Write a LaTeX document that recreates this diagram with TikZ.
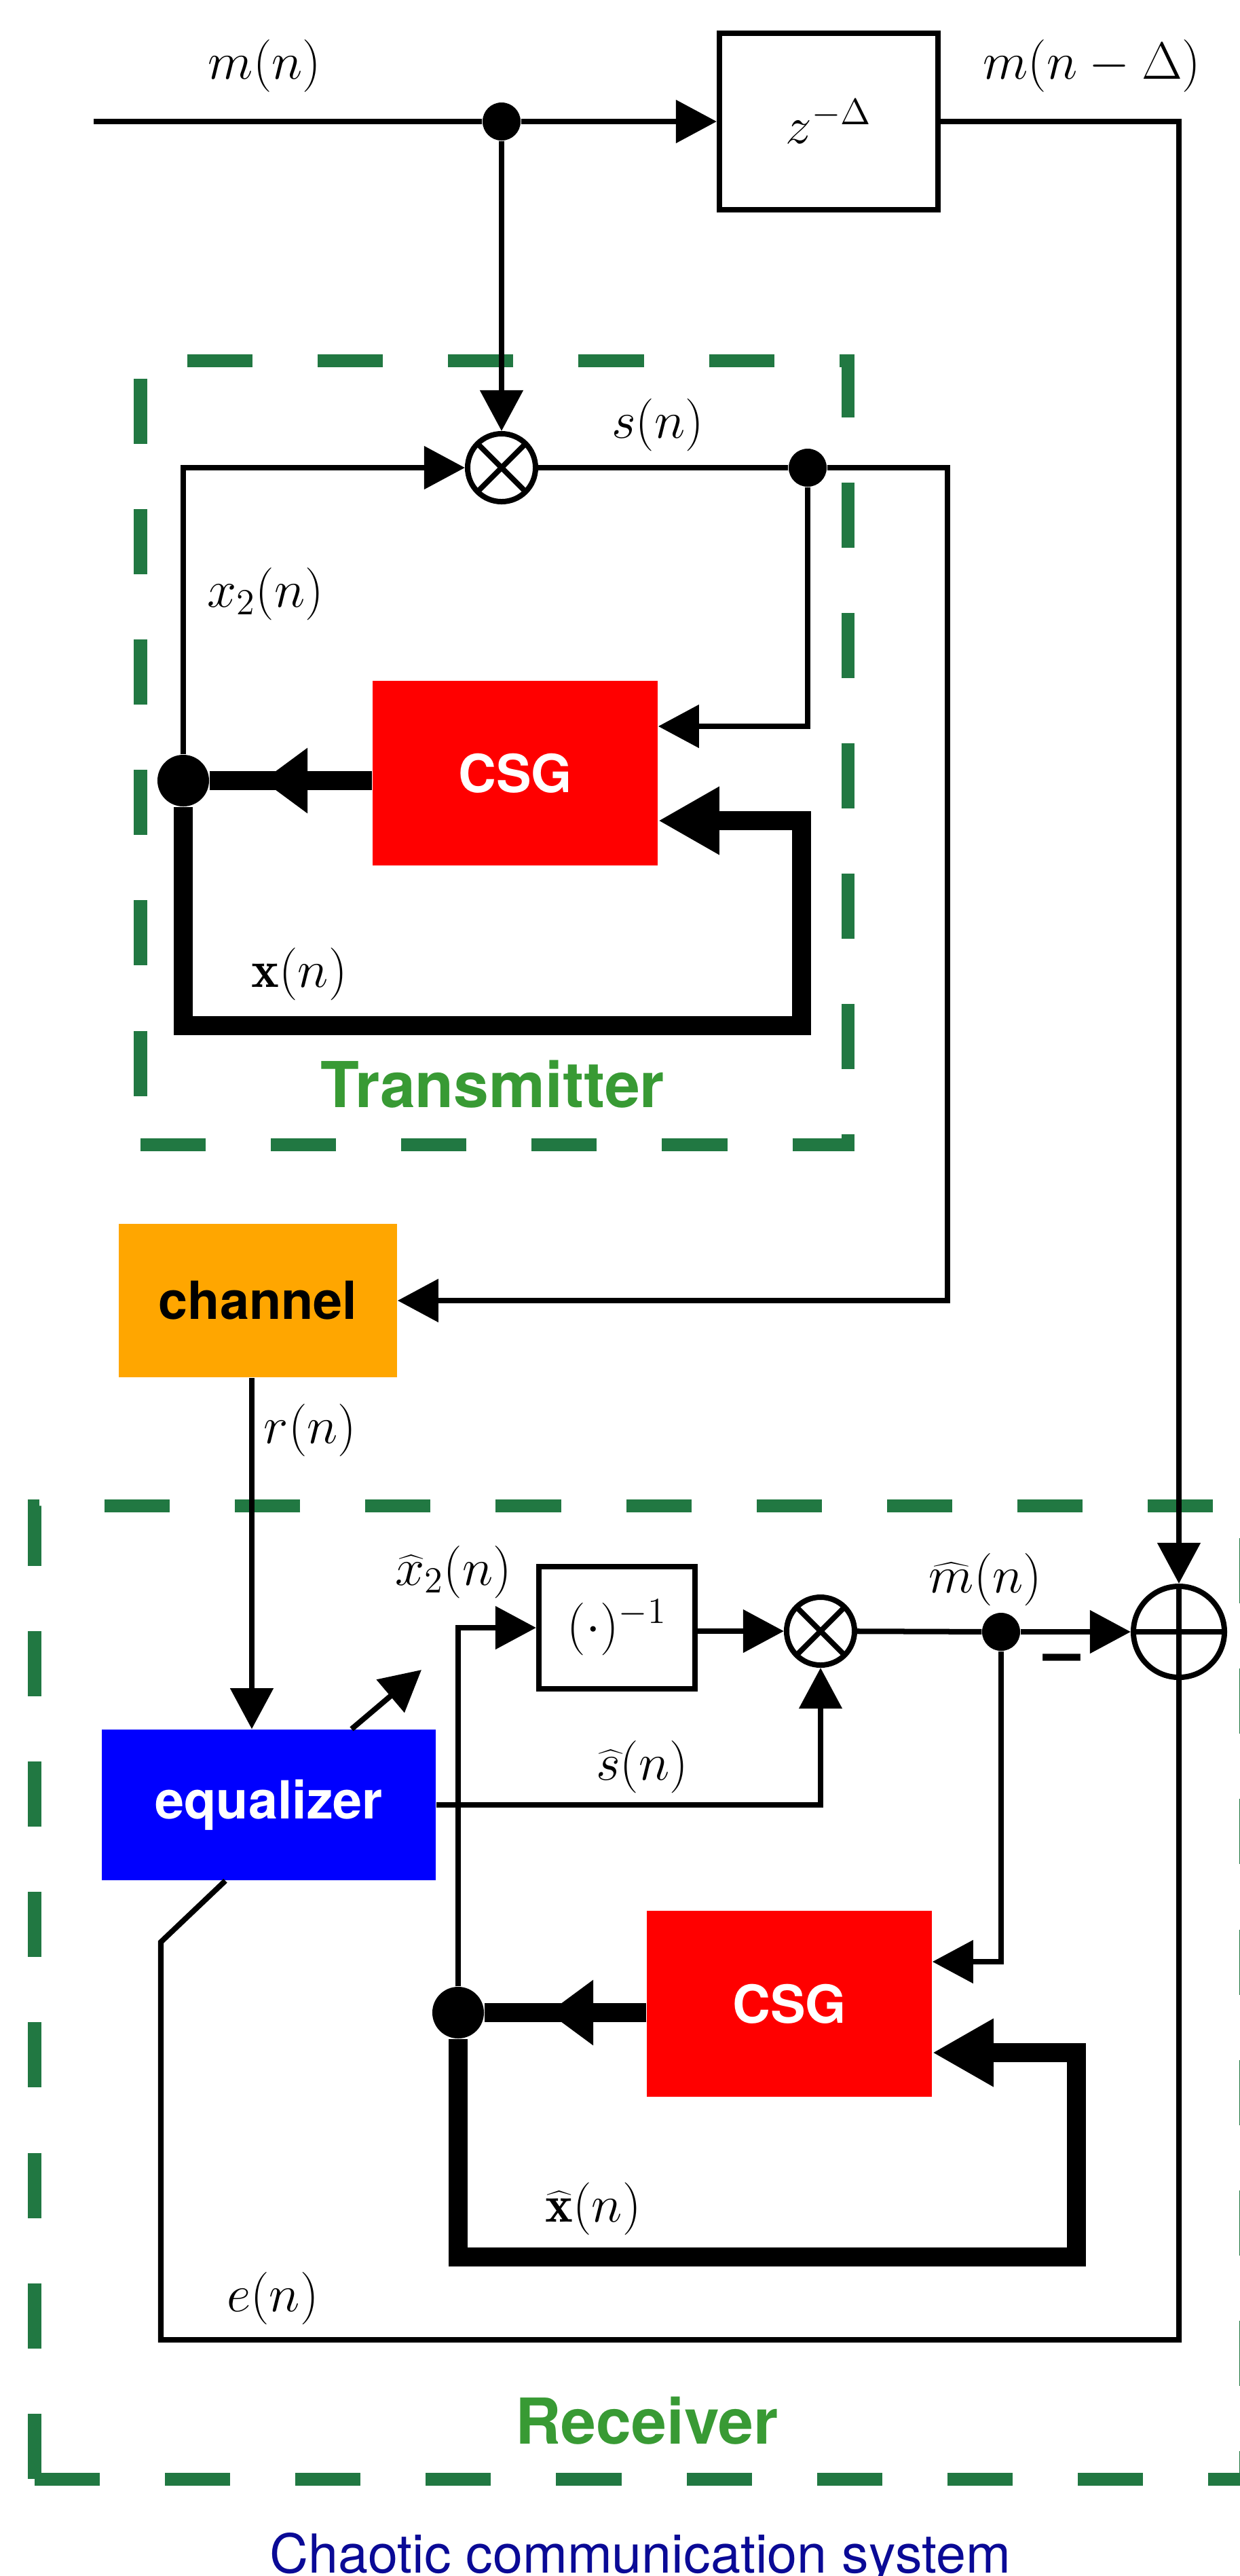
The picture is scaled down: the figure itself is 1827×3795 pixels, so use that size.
\documentclass[tikz,border=0pt]{standalone}
\usepackage{fix-cm}
\usepackage{fontspec}
\newfontfamily\hv{TeX Gyre Heros}
\usetikzlibrary{arrows.meta,calc}
\definecolor{dashgreen}{RGB}{33,120,66}
\definecolor{txtgreen}{RGB}{56,154,52}
\definecolor{navytxt}{RGB}{10,10,150}
\definecolor{chorange}{RGB}{255,166,0}
\begin{document}
\begin{tikzpicture}[x=0.01cm,y=-0.01cm,
  thinl/.style={line width=0.08cm},
  thickl/.style={line width=0.28cm},
  arr/.style={-{Triangle[length=0.6cm,width=0.62cm]}},
  tarr/.style={-{Triangle[length=0.9cm,width=0.94cm]}},
  marr/.style={-{Triangle[length=0.66cm,width=0.92cm]}},
  lab/.style={font=\fontsize{22}{26}\selectfont, inner sep=0pt},
  blk/.style={rectangle, inner sep=0pt, font=\hv\bfseries\fontsize{22}{26}\selectfont},
  plainbox/.style={draw, line width=0.08cm, rectangle, inner sep=0pt, font=\fontsize{22}{26}\selectfont},
  dotS/.style={circle, fill=black, minimum size=0.56cm, inner sep=0pt},
  dotB/.style={circle, fill=black, minimum size=0.76cm, inner sep=0pt},
  mult/.style={circle, draw, line width=0.08cm, minimum size=1.0cm, inner sep=0pt,
    path picture={\draw[line width=0.08cm] (path picture bounding box.north west) -- (path picture bounding box.south east) (path picture bounding box.north east) -- (path picture bounding box.south west);}},
  sumn/.style={circle, draw, line width=0.08cm, minimum size=1.34cm, inner sep=0pt,
    path picture={\draw[line width=0.08cm] (path picture bounding box.north) -- (path picture bounding box.south) (path picture bounding box.west) -- (path picture bounding box.east);}},
  grp/.style={draw=dashgreen, line width=0.19cm, dash pattern=on 0.96cm off 0.96cm},
  ttl/.style={font=\hv\bfseries\fontsize{26.5}{30}\selectfont, text=txtgreen, inner sep=0pt},
]
\useasboundingbox (0,0) rectangle (1827,3795);

% group frames
\draw[grp] (207,1686) -- (1249,1686) -- (1249,531) -- (207,531) -- cycle;
\draw[grp] (51,3652) -- (1835,3652) -- (1835,2218) -- (51,2218) -- cycle;

% nodes
\coordinate (in) at (138,179);
\coordinate (tr) at (1737,179);
\node[dotS] (d1) at (739,179) {};
\node[plainbox, minimum width=3.22cm, minimum height=2.6cm] (zb) at (1221,179) {$z^{-\Delta}$};
\node[sumn] (sum) at (1737,2404) {};

\node[mult] (mT) at (739,689) {};
\node[dotS] (d2) at (1190,689) {};
\node[dotB] (bT) at (270,1150) {};
\node[blk, fill=red, text=white, minimum width=4.2cm, minimum height=2.72cm] (csgT) at (759,1139) {CSG};

\node[blk, fill=chorange, text=black, minimum width=4.1cm, minimum height=2.26cm] (chan) at (380,1916) {channel};

\node[blk, fill=blue, text=white, minimum width=4.92cm, minimum height=2.22cm] (eq) at (396,2659) {equalizer};
\node[plainbox, minimum width=2.3cm, minimum height=1.8cm] (inv) at (909,2398) {$(\cdot)^{-1}$};
\node[mult] (mR) at (1209,2403) {};
\node[dotS] (dm) at (1475,2404) {};
\node[dotB] (bR) at (675,2965) {};
\node[blk, fill=red, text=white, minimum width=4.2cm, minimum height=2.73cm] (csgR) at (1163,2952) {CSG};

% coordinates
\coordinate (sc1) at (1396,689);
\coordinate (sc2) at (1396,1916);
\coordinate (c1) at (1190,1070);
\coordinate (lt1) at (270,1511);
\coordinate (lt2) at (1181,1511);
\coordinate (lt3) at (1181,1209);
\coordinate (tipT) at (387,1150);
\coordinate (rx) at (371,0);
\coordinate (eqo) at (621,2460);
\coordinate (c2) at (1475,2890);
\coordinate (lr1) at (675,3325);
\coordinate (lr2) at (1586,3325);
\coordinate (lr3) at (1586,3024);
\coordinate (tipR) at (808,2965);
\coordinate (e1) at (1737,3447);
\coordinate (e2) at (237,3447);
\coordinate (e3) at (237,2861);

% top part
\draw[thinl] (in) -- (d1);
\draw[thinl, arr] (d1) -- (zb.west);
\draw[thinl, arr] (d1) -- (mT);
\draw[thinl, arr] (zb.east) -- (tr) -- (sum.north);

% transmitter
\draw[thinl, arr] (bT) |- (mT);
\draw[thinl] (mT) -- (d2);
\draw[thinl, arr] (d2) -- (sc1) -- (sc2) -- (chan.east);
\draw[thinl, arr] (d2) -- (c1) -- (c1 -| csgT.east);
\draw[thickl] (csgT.west |- bT) -- (bT);
\draw[thickl, marr] (csgT.west |- bT) -- (tipT);
\draw[thickl, tarr] (bT) -- (lt1) -- (lt2) -- (lt3) -- (lt3 -| csgT.east);

% channel to equalizer
\draw[thinl, arr] (chan.south -| rx) -- (eq.north -| rx);
\draw[thinl, arr] ($(eq.north)+(122,0)$) -- (eqo);

% receiver
\draw[thinl, arr] (bR) |- (inv.west);
\draw[thinl, arr] (inv.east |- mR) -- (mR);
\draw[thinl, arr] (eq.east) -| (mR.south);
\draw[thinl] (mR) -- (dm);
\draw[thinl, arr] (dm) -- (sum.west);
\draw[thinl, arr] (dm) -- (c2) -- (c2 -| csgR.east);
\draw[thickl] (csgR.west |- bR) -- (bR);
\draw[thickl, marr] (csgR.west |- bR) -- (tipR);
\draw[thickl, tarr] (bR) -- (lr1) -- (lr2) -- (lr3) -- (lr3 -| csgR.east);
\draw[thinl] (sum.south) -- (e1) -- (e2) -- (e3) -- ($(eq.south)+(-64,0)$);

% labels
\node[lab] (lm) at (390,97) {$m(n)$};
\node[lab] (lmd) at (1609,97) {$m(n-\Delta)$};
\node[lab] (ls) at (969,626) {$s(n)$};
\node[lab] (lx2) at (391,875) {$x_2(n)$};
\node[lab] (lx) at (441,1435) {$\mathbf{x}(n)$};
\node[ttl] (ttx) at (726,1597) {Transmitter};
\node[lab] (lr) at (457,2107) {$r(n)$};
\node[lab] (lhx2) at (668,2316) {$\widehat{x}_2(n)$};
\node[lab] (lhm) at (1452,2327) {$\widehat{m}(n)$};
\node[lab] (lhs) at (946,2603) {$\widehat{s}(n)$};
\node[lab] (lhx) at (874,3254) {$\widehat{\mathbf{x}}(n)$};
\node[lab] (le) at (402,3386) {$e(n)$};
\node[font=\hv\bfseries\fontsize{28}{30}\selectfont, inner sep=0pt] (minus) at (1565,2452) {\textendash};
\node[ttl] (trx) at (953,3566) {Receiver};
\node[anchor=base, font=\hv\fontsize{22.5}{26}\selectfont, text=navytxt, inner sep=0pt] (cap) at (943,3790) {Chaotic communication system};
\end{tikzpicture}
\end{document}
